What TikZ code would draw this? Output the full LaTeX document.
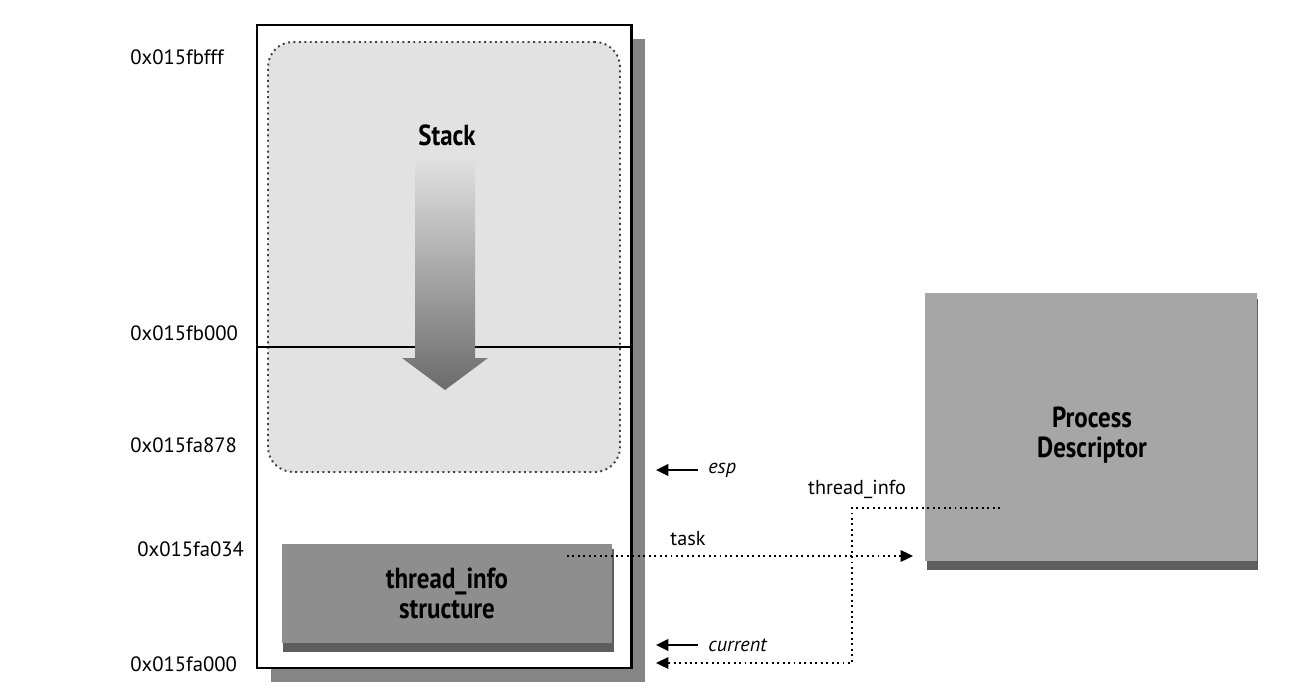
\documentclass[tikz,border=0pt]{standalone}
\usepackage{fontspec}
\setmainfont{PT Sans}
\newfontfamily\narrowfont[FakeStretch=0.86]{PT Sans}
\usetikzlibrary{arrows.meta}
\definecolor{stackgray}{HTML}{E2E2E2}
\definecolor{infogray}{HTML}{8E8E8E}
\definecolor{descgray}{HTML}{A6A6A6}
\definecolor{edgegray}{HTML}{5E5E5E}
\begin{document}
\begin{tikzpicture}[line join=miter,
    frame/.style={draw=black, line width=1.7pt, fill=white, inner sep=0pt},
    region/.style={draw=black!75, dotted, line width=1.1pt, fill=stackgray, rounded corners=0.5cm, inner sep=0pt},
    block/.style={inner sep=0pt, align=center, font=\narrowfont\bfseries\fontsize{16.5}{17.5}\selectfont},
    addr/.style={anchor=west, inner sep=0pt, font=\fontsize{11.8}{13}\selectfont},
    lbl/.style={inner sep=0pt, font=\fontsize{11.5}{13}\selectfont},
    ptr/.style={line width=1.3pt, -{Triangle[length=7pt, width=6.5pt]}},
    link/.style={dotted, line width=1.1pt, -{Triangle[length=7pt, width=6.5pt]}}]
  \useasboundingbox[fill=white] (0,0) rectangle (26.16,-13.98);
  \fill[black!48] (5.42,-0.78) rectangle (12.90,-13.64);
  \node[frame, minimum width=7.48cm, minimum height=12.86cm] (frame) at (8.88,-6.93) {};
  \node[region, minimum width=7.04cm, minimum height=8.6cm] (stack) at (8.88,-5.14) {};
  \coordinate (split) at (8.88,-6.94);
  \draw[line width=1.5pt] (frame.west |- split) -- (frame.east |- split);
  \shade[top color=stackgray, bottom color=black!58]
    (8.30,-3.14) -- (9.50,-3.14) -- (9.50,-7.16) -- (9.76,-7.16)
    -- (8.90,-7.80) -- (8.04,-7.16) -- (8.30,-7.16) -- cycle;
  \node[block] (stacktxt) at (8.94,-2.70) {Stack};
  \fill[edgegray] (5.66,-10.98) rectangle (12.28,-13.04);
  \node[block, fill=infogray, minimum width=6.6cm, minimum height=1.98cm] (info) at (8.94,-11.87) {thread\_info\\structure};
  \fill[edgegray] (18.54,-5.98) rectangle (25.16,-11.40);
  \node[block, fill=descgray, minimum width=6.64cm, minimum height=5.36cm] (desc) at (21.82,-8.54) {};
  \node[block] (desctxt) at (21.84,-8.70) {Process\\Descriptor};
  \node[addr] (a1) at (2.60,-1.14) {0x015fbfff};
  \node[addr] (a2) at (2.60,-6.66) {0x015fb000};
  \node[addr] (a3) at (2.60,-8.90) {0x015fa878};
  \node[addr] (a4) at (2.74,-10.98) {0x015fa034};
  \node[addr] (a5) at (2.60,-13.28) {0x015fa000};
  \node[lbl, anchor=west] (esp) at (14.16,-9.40) {\itshape esp};
  \node[lbl, anchor=west] (cur) at (14.16,-12.90) {\itshape current};
  \coordinate (espend) at (13.12,-9.40);
  \coordinate (curend) at (13.12,-12.90);
  \draw[ptr, shorten <=0.2cm] (esp.west) -- (espend);
  \draw[ptr, shorten <=0.2cm] (cur.west) -- (curend);
  \coordinate (taskstart) at (11.34,-11.12);
  \coordinate (taskend) at (18.26,-11.12);
  \node[lbl] (task) at (13.76,-10.78) {task};
  \draw[link] (taskstart) -- (taskend);
  \coordinate (tistart) at (20.00,-10.16);
  \coordinate (tiend) at (13.12,-13.26);
  \node[lbl] (titxt) at (17.14,-9.78) {thread\_info};
  \draw[link] (tistart) -| (17.04,-13.26) -- (tiend);
\end{tikzpicture}
\end{document}
